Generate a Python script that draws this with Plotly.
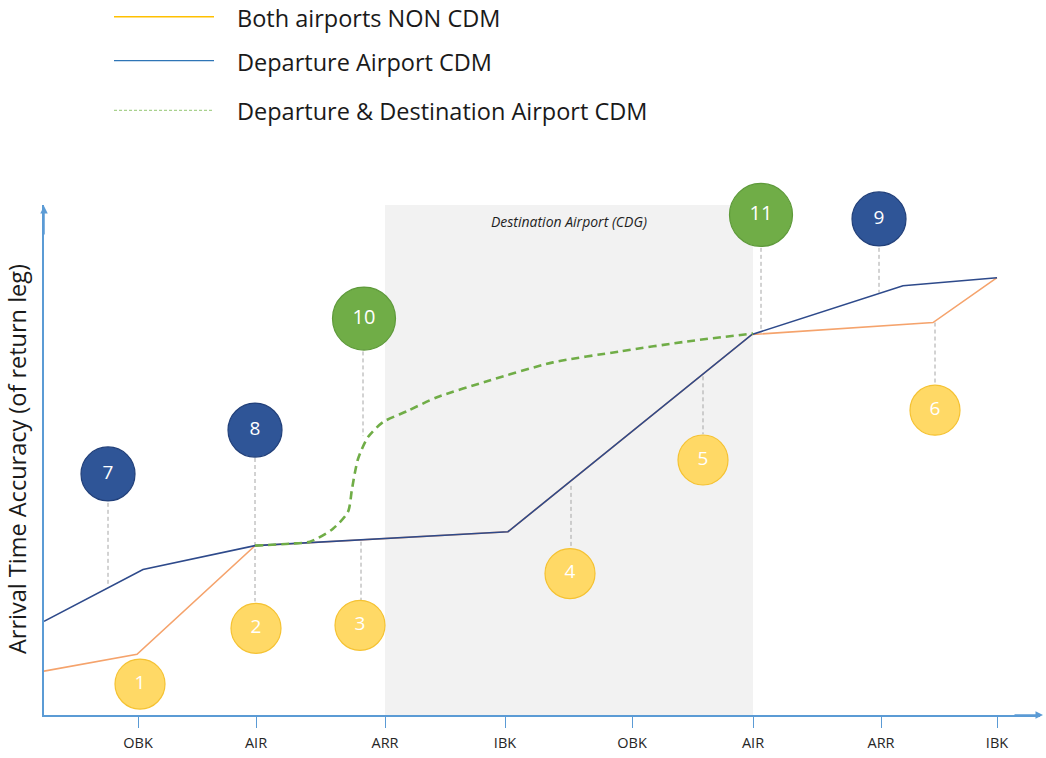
import plotly.graph_objects as go

# ---------------- data (x/y in arbitrary diagram units) ----------------
stage_labels = ["OBK", "AIR", "ARR", "IBK", "OBK", "AIR", "ARR", "IBK"]
stage_x = [94, 212, 341, 461, 588, 709, 837, 953]

non_cdm_x = [0, 93, 211, 464, 708, 889, 953]
non_cdm_y = [44, 61, 170, 184, 382, 394, 439]

dep_cdm_x = [0, 99, 211, 464, 708, 859, 953]
dep_cdm_y = [94, 146, 170, 184, 382, 431, 439]

both_cdm_x = [211, 246, 266, 289, 304, 308, 314, 324, 339, 363, 393, 443, 509, 576, 643, 709]
both_cdm_y = [170, 172, 174, 187, 204, 227, 257, 279, 294, 305, 319, 335, 354, 365, 375, 383]

shade_x = [341, 709]

yellow_ids = ["1", "2", "3", "4", "5", "6"]
yellow_x = [96, 212, 316, 526, 659, 891]
yellow_y = [31, 87, 90, 142, 256, 306]

blue_ids = ["7", "8", "9"]
blue_x = [64, 211, 835]
blue_y = [242, 286, 498]

green_ids = ["10", "11"]
green_x = [320, 717]
green_y = [398, 502]

# connector segments (x, y_start, y_end)
conn_x = [64, 211, 319, 317, 527, 659, 717, 835, 891]
conn_y0 = [213, 258, 365, 174, 230, 340, 469, 469, 394]
conn_y1 = [129, 114, 280, 115, 169, 282, 384, 424, 332]

legend_names = ["Both airports NON CDM", "Departure Airport CDM", "Departure & Destination Airport CDM"]

# ---------------- figure ----------------
W, H = 1046, 758
L, R, T, B = 44, 6, 205, 41
XR = [0, 996]
YR = [0, 512]
AXIS_COL = "#5B9BD5"
FONT = "Open Sans"

def px2paper_x(px):
    return (px - L) / (W - L - R)

def px2paper_y(py):
    return (H - B - py) / (H - T - B)

fig = go.Figure()

# connectors
for cx, a, b in zip(conn_x, conn_y0, conn_y1):
    fig.add_trace(go.Scatter(x=[cx, cx], y=[a, b], mode="lines",
                             line=dict(color="#A6A6A6", width=1, dash="4px,3px"),
                             hoverinfo="skip", showlegend=False))

fig.add_trace(go.Scatter(x=non_cdm_x, y=non_cdm_y, mode="lines", name=legend_names[0],
                         line=dict(color="#F5A36C", width=1.6), showlegend=False))
fig.add_trace(go.Scatter(x=dep_cdm_x, y=dep_cdm_y, mode="lines", name=legend_names[1],
                         line=dict(color="#2E4A8B", width=1.6), showlegend=False))
fig.add_trace(go.Scatter(x=both_cdm_x, y=both_cdm_y, mode="lines", name=legend_names[2],
                         line=dict(color="#70AD47", width=2.6, dash="8px,5px", shape="spline", smoothing=0.7),
                         showlegend=False))

def bubbles(xs, ys, ids, size, fill, edge, fsize):
    fig.add_trace(go.Scatter(x=xs, y=ys, mode="markers+text", text=ids,
                             textposition="middle center",
                             textfont=dict(color="white", size=fsize, family=FONT),
                             marker=dict(size=size, color=fill, line=dict(color=edge, width=1.2)),
                             hoverinfo="skip", showlegend=False, cliponaxis=False))

bubbles(yellow_x, yellow_y, yellow_ids, 50, "#FFD966", "#F5C232", 19)
bubbles(blue_x, blue_y, blue_ids, 54, "#2F5597", "#22407A", 19)
bubbles(green_x, green_y, green_ids, 63, "#70AD47", "#5E9A3A", 20)

shapes = [
    dict(type="rect", xref="x", yref="y", x0=shade_x[0], x1=shade_x[1], y0=YR[0], y1=YR[1],
         fillcolor="#F2F2F2", line=dict(width=0), layer="below"),
]

legend_cols = ["#FFC000", "#2E75B6", "#A9D18E"]
legend_dash = ["solid", "solid", "3px,2px"]
legend_py = [16, 60, 110]
annotations = []
for name, col, dsh, py in zip(legend_names, legend_cols, legend_dash, legend_py):
    shapes.append(dict(type="line", xref="paper", yref="paper",
                       x0=px2paper_x(114), x1=px2paper_x(214), y0=px2paper_y(py), y1=px2paper_y(py),
                       line=dict(color=col, width=1.3, dash=dsh)))
    annotations.append(dict(xref="paper", yref="paper", x=px2paper_x(235), y=px2paper_y(py + 1),
                            xanchor="left", yanchor="middle", text=name, showarrow=False,
                            font=dict(size=23.5, color="#1A1A1A", family=FONT)))

annotations.append(dict(xref="x", yref="y", x=(shade_x[0] + shade_x[1]) / 2, y=495,
                        text="<i>Destination Airport (CDG)</i>", showarrow=False,
                        font=dict(size=14, color="#1F1F1F", family=FONT)))
annotations.append(dict(xref="paper", yref="paper", x=px2paper_x(17), y=px2paper_y(460),
                        xanchor="center", yanchor="middle",
                        text="Arrival Time Accuracy (of return leg)", textangle=-90, showarrow=False,
                        font=dict(size=23.5, color="#1A1A1A", family=FONT)))
# axis arrowheads
annotations.append(dict(xref="paper", yref="paper", x=px2paper_x(1043), y=0, ax=-30, ay=0,
                        showarrow=True, arrowhead=2, arrowsize=1, arrowwidth=1.5,
                        arrowcolor=AXIS_COL, text=""))
annotations.append(dict(xref="paper", yref="paper", x=0, y=px2paper_y(206), ax=0, ay=30,
                        showarrow=True, arrowhead=2, arrowsize=1, arrowwidth=1.5,
                        arrowcolor=AXIS_COL, text=""))

fig.update_layout(
    width=W, height=H,
    margin=dict(l=L, r=R, t=T, b=B, pad=0),
    paper_bgcolor="white", plot_bgcolor="white",
    shapes=shapes, annotations=annotations,
    showlegend=False,
    xaxis=dict(range=XR, showgrid=False, zeroline=False, showline=True, linecolor=AXIS_COL,
               linewidth=1.5, ticks="outside", ticklen=11, tickwidth=1.2, tickcolor=AXIS_COL,
               tickvals=stage_x, ticktext=stage_labels, ticklabelstandoff=3,
               tickfont=dict(size=14.5, color="#262626", family=FONT), fixedrange=True),
    yaxis=dict(range=YR, showgrid=False, zeroline=False, showline=True, linecolor=AXIS_COL,
               linewidth=1.5, showticklabels=False, ticks="", fixedrange=True),
)

fig.write_html("out.html", config={"displayModeBar": False},
               post_script="document.body.style.margin='0px';document.body.style.overflow='hidden';")
